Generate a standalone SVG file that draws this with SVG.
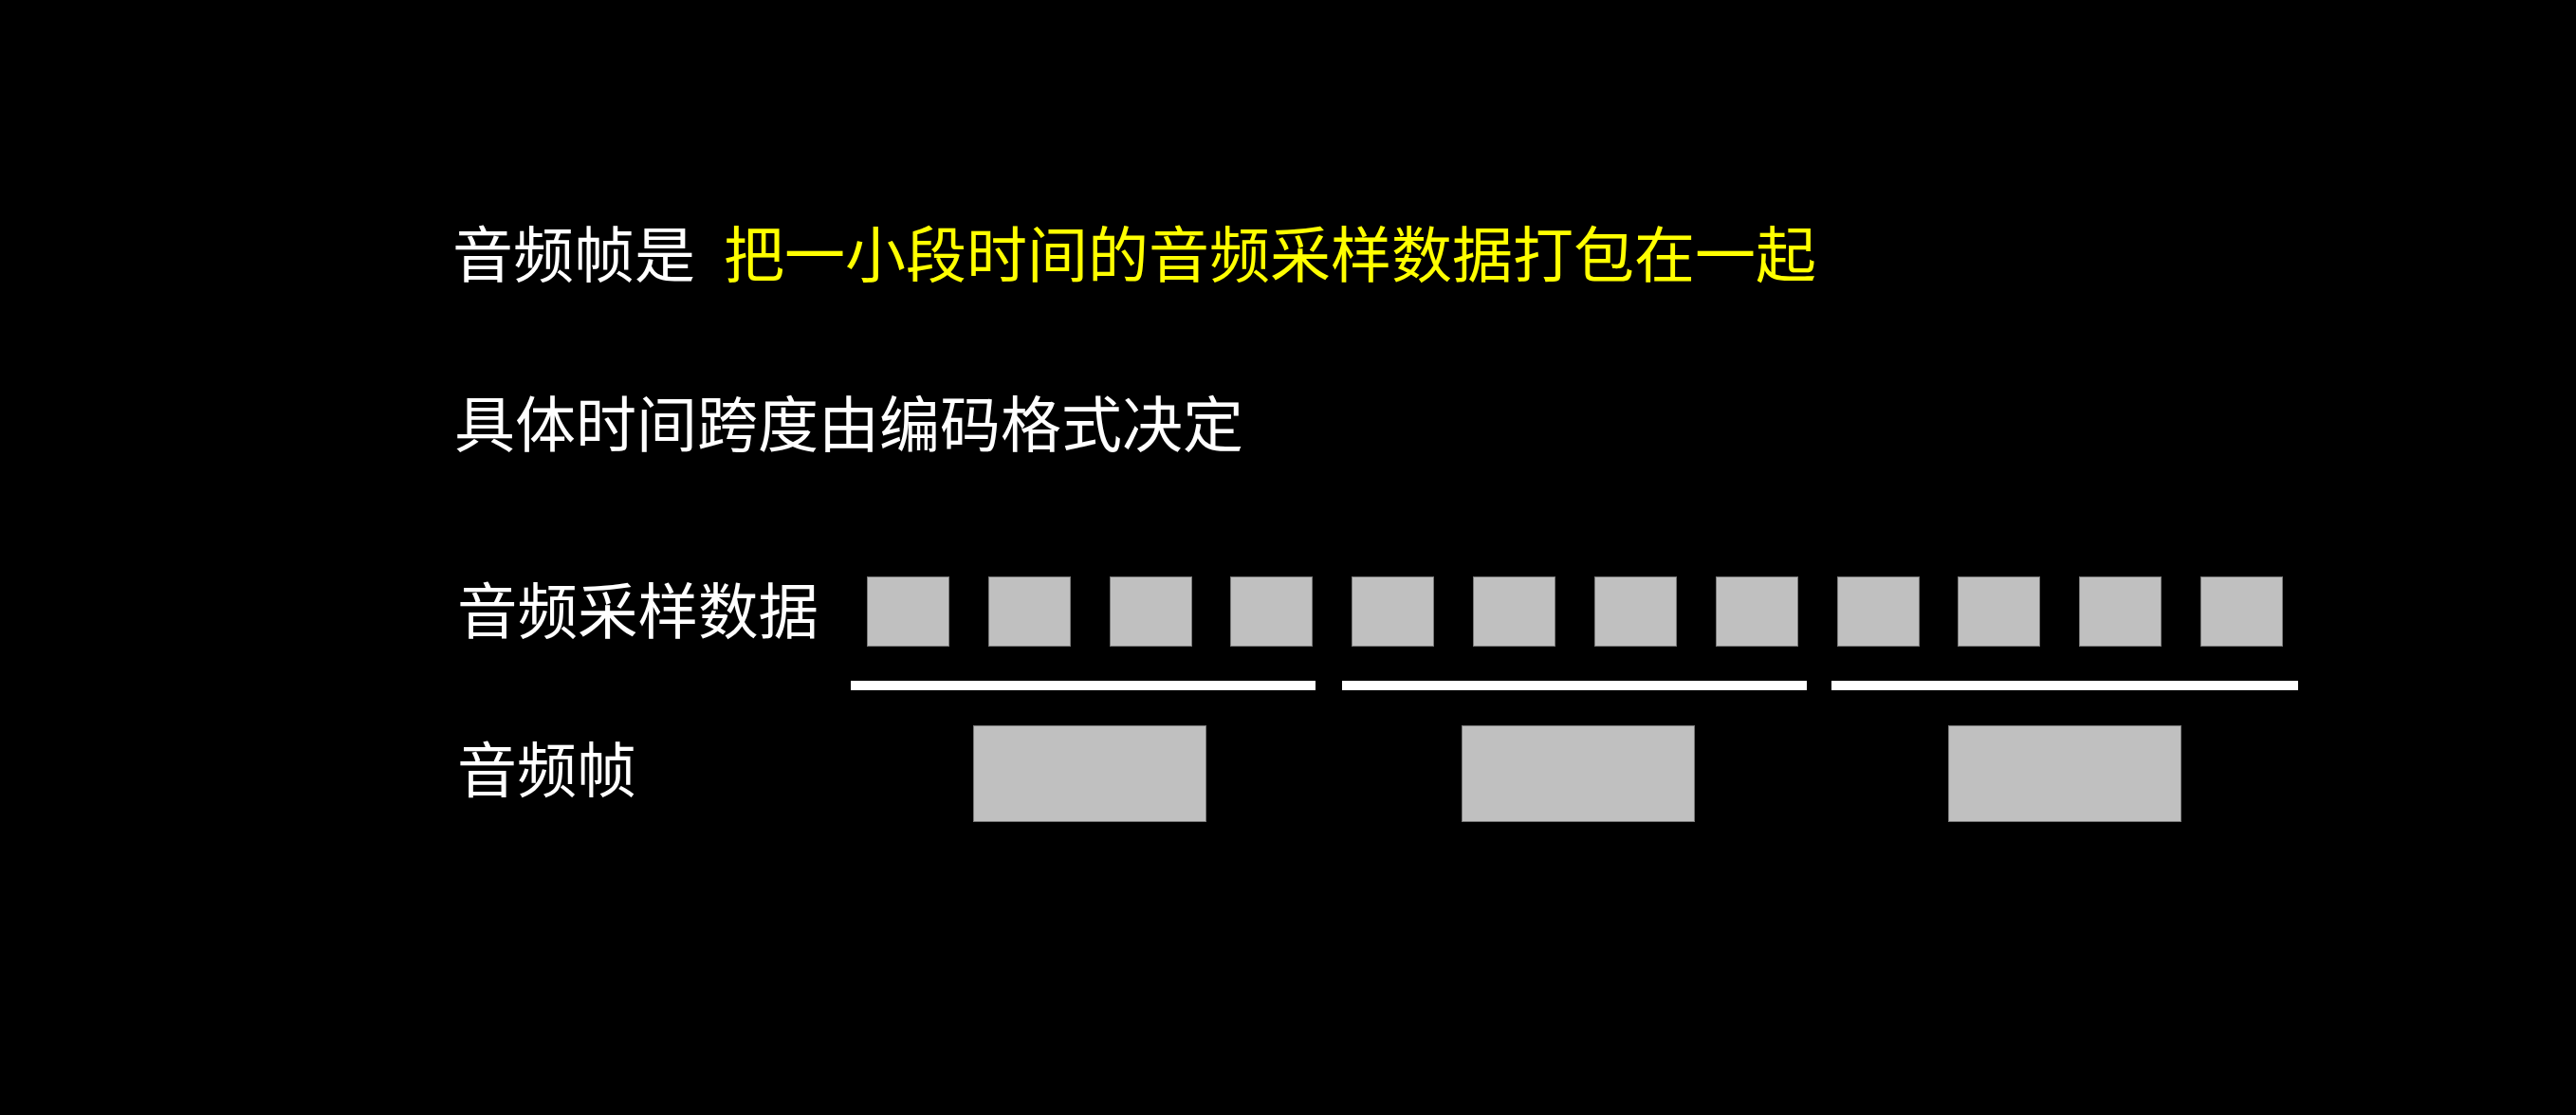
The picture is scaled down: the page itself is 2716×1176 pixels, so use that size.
<svg xmlns="http://www.w3.org/2000/svg" width="2716" height="1176" viewBox="0 0 2716 1176">
<style>
.t{font-family:"Noto Sans CJK SC","Noto Sans CJK JP",sans-serif;fill:#ffffff}
.y{fill:#ffff00}
.s{fill:#c0c0c0;stroke:#7a7a7a;stroke-width:1}
.b{fill:#ffffff}
</style>
<rect x="0" y="0" width="2716" height="1176" fill="#000000"/>
<g id="title">
<text class="t" x="477" y="292" font-size="64">音频帧是</text>
<text class="t y" x="763" y="292" font-size="64">把一小段时间的音频采样数据打包在一起</text>
</g>
<g id="subtitle">
<text class="t" x="479" y="471" font-size="64">具体时间跨度由编码格式决定</text>
</g>
<g id="label-samples">
<text class="t" x="482" y="668" font-size="63.5">音频采样数据</text>
</g>
<g id="label-frames">
<text class="t" x="482" y="835" font-size="63">音频帧</text>
</g>
<g id="samples">
<rect class="s" x="914.5" y="608.5" width="86" height="73"/>
<rect class="s" x="1042.5" y="608.5" width="86" height="73"/>
<rect class="s" x="1170.5" y="608.5" width="86" height="73"/>
<rect class="s" x="1297.5" y="608.5" width="86" height="73"/>
<rect class="s" x="1425.5" y="608.5" width="86" height="73"/>
<rect class="s" x="1553.5" y="608.5" width="86" height="73"/>
<rect class="s" x="1681.5" y="608.5" width="86" height="73"/>
<rect class="s" x="1809.5" y="608.5" width="86" height="73"/>
<rect class="s" x="1937.5" y="608.5" width="86" height="73"/>
<rect class="s" x="2064.5" y="608.5" width="86" height="73"/>
<rect class="s" x="2192.5" y="608.5" width="86" height="73"/>
<rect class="s" x="2320.5" y="608.5" width="86" height="73"/>
</g>
<g id="connectors">
<rect class="b" x="897" y="718" width="490" height="10"/>
<rect class="b" x="1415" y="718" width="490" height="10"/>
<rect class="b" x="1931" y="718" width="492" height="10"/>
</g>
<g id="frames">
<rect class="s" x="1026.5" y="765.5" width="245" height="101"/>
<rect class="s" x="1541.5" y="765.5" width="245" height="101"/>
<rect class="s" x="2054.5" y="765.5" width="245" height="101"/>
</g>
</svg>
